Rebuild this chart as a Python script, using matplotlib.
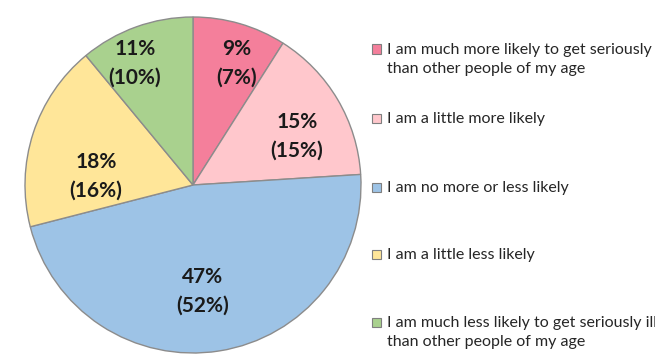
import matplotlib.pyplot as plt
import numpy as np

categories = [
    "I am much more likely to get seriously ill\nthan other people of my age",
    "I am a little more likely",
    "I am no more or less likely",
    "I am a little less likely",
    "I am much less likely to get seriously ill\nthan other people of my age",
]
shares = [9, 15, 47, 18, 11]
prev_shares = [7, 15, 52, 16, 10]
colors = ["#F47F9B", "#FFC7CC", "#9DC3E6", "#FFE699", "#A9D18E"]

W, H = 655, 357
fig = plt.figure(figsize=(W / 100, H / 100), dpi=100)

# pie centre / radius in pixels
cx, cy, r = 193, 185, 170
ax = fig.add_axes([(cx - r) / W, (H - cy - r) / H, 2 * r / W, 2 * r / H])
ax.pie(shares, colors=colors, startangle=90, counterclock=False, radius=r - 2,
       wedgeprops=dict(edgecolor="#8C8C8C", linewidth=1.0))
ax.set_xlim(-r, r)
ax.set_ylim(-r, r)
ax.set_aspect("equal")
ax.axis("off")

# label block centres (offset from pie centre, px)
label_pos = [(44, 122), (104, 49), (10, -106), (-97, 9), (-58, 122)]
for (dx, dy), s, p in zip(label_pos, shares, prev_shares):
    ax.text(dx, dy, f"{s}%\n({p}%)", ha="center", va="center", fontsize=15,
            fontweight="bold", family="Lato", color="#1a1a1a", linespacing=1.55)

# legend
legend_y = [49, 118, 187, 254, 322]
for y, c, lab in zip(legend_y, colors, categories):
    fig.patches.append(plt.Rectangle((372 / W, (H - y - 4.5) / H), 9 / W, 9 / H,
                                     transform=fig.transFigure, facecolor=c,
                                     edgecolor="#7F7F7F", linewidth=0.8))
    fig.text(387 / W, (H - y + 6) / H, lab, ha="left", va="top", fontsize=11.5,
             family="Lato", color="#262626", linespacing=1.44,
             transform=fig.transFigure)

fig.savefig("out.png", dpi=100, facecolor="white")
